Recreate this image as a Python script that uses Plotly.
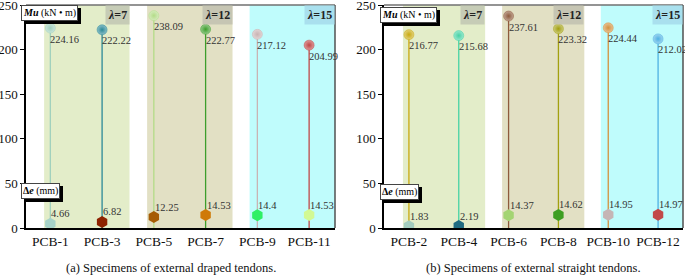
import plotly.graph_objects as go

FONT = "Liberation Serif"

# ---- data ----
cats_a = ["PCB-1", "PCB-3", "PCB-5", "PCB-7", "PCB-9", "PCB-11"]
mu_a = [224.16, 222.22, 238.09, 222.77, 217.12, 204.99]
de_a = [4.66, 6.82, 12.25, 14.53, 14.4, 14.53]

cats_b = ["PCB-2", "PCB-4", "PCB-6", "PCB-8", "PCB-10", "PCB-12"]
mu_b = [216.77, 215.68, 237.61, 223.32, 224.44, 212.02]
de_b = [1.83, 2.19, 14.37, 14.62, 14.95, 14.97]

lambda_labels = ["λ=7", "λ=12", "λ=15"]
y_ticks = [0, 50, 100, 150, 200, 250]

# ---- styles ----
mu_col_a = ["#9fd0bd", "#2b8a98", "#b3dc87", "#3d9e2c", "#c9b3b3", "#c04747"]
de_col_a = ["#a6d2c8", "#8e2200", "#a65c05", "#cf7a08", "#2ef065", "#d2f994"]
mu_col_b = ["#c9aa10", "#47d3a5", "#8e5a3c", "#a2a010", "#d3913f", "#4fb1e3"]
de_col_b = ["#a3cdbf", "#1f6c82", "#a4d473", "#3e9e22", "#c5b5b5", "#c24a4a"]
region_cols = ["#e3edc9", "#e2e0c4", "#bffcfc"]
lab_bg = ["#c6ccb6", "#c6c5b3", "#a9e0ee"]
regions = [(-0.12, 1.53), (1.87, 3.52), (3.85, 5.6)]


def lighten(h, f=0.6):
    h = h.lstrip("#")
    r, g, b = (int(h[i:i + 2], 16) for i in (0, 2, 4))
    r, g, b = (int(c + (255 - c) * f) for c in (r, g, b))
    return f"#{r:02x}{g:02x}{b:02x}"


fig = go.Figure()
W, H = 685, 277

panels = [
    ("x", "y", cats_a, mu_a, de_a, mu_col_a, de_col_a),
    ("x2", "y2", cats_b, mu_b, de_b, mu_col_b, de_col_b),
]
shapes = []
annotations = []

for xr, yr, cats, mu, de, mc, dc in panels:
    # shaded regions
    for (x0, x1), col, lab, bg in zip(regions, region_cols, lambda_labels, lab_bg):
        shapes.append(dict(type="rect", xref=xr, yref=yr, x0=x0, x1=x1, y0=0, y1=250,
                           fillcolor=col, line=dict(width=0), layer="below"))
        annotations.append(dict(xref=xr, yref=yr, x=min(x1, 5.5), y=250, xanchor="right",
                                yanchor="top", showarrow=False,
                                text="<b><i>λ</i>" + lab[1:] + "</b>",
                                bgcolor=bg, borderpad=2,
                                font=dict(family=FONT, size=12, color="#222")))
    for i in range(len(cats)):
        fig.add_trace(go.Scatter(x=[i, i], y=[0, mu[i]], mode="lines",
                                 line=dict(color=mc[i], width=1.3),
                                 xaxis=xr, yaxis=yr, showlegend=False, hoverinfo="skip"))
        fig.add_trace(go.Scatter(x=[i], y=[de[i]], mode="markers",
                                 marker=dict(symbol="hexagon", size=12, color=dc[i],
                                             line=dict(width=0)),
                                 xaxis=xr, yaxis=yr, showlegend=False))
        fig.add_trace(go.Scatter(x=[i], y=[mu[i]], mode="markers",
                                 marker=dict(symbol="circle", size=10, color=lighten(mc[i], 0.45),
                                             gradient=dict(type="radial", color=mc[i]),
                                             line=dict(width=0.5, color=mc[i])),
                                 xaxis=xr, yaxis=yr, showlegend=False))
        annotations.append(dict(xref=xr, yref=yr, x=i, y=mu[i], xanchor="left",
                                yanchor="middle", yshift=-11, xshift=-2, showarrow=False,
                                text=str(mu[i]), font=dict(family=FONT, size=10.5, color="#333")))
        annotations.append(dict(xref=xr, yref=yr, x=i, y=de[i], xanchor="left",
                                yanchor="middle", yshift=10, xshift=-1, showarrow=False,
                                text=str(de[i]), font=dict(family=FONT, size=10.5, color="#333")))
    # top and right borders
    shapes.append(dict(type="line", xref=xr + " domain", yref=yr + " domain",
                       x0=0, x1=1, y0=1, y1=1, line=dict(color="#707070", width=1.5)))
    shapes.append(dict(type="line", xref=xr + " domain", yref=yr + " domain",
                       x0=1, x1=1, y0=0, y1=1, line=dict(color="#505050", width=1.5)))

# label boxes (Mu and Δe) with black shadow
box_defs = [
    (21, 5, "<b><i>Mu</i></b> (kN • m)"),
    (21, 183, "<b>Δ<i>e</i></b> (mm)"),
    (380, 7, "<b><i>Mu</i></b> (kN • m)"),
    (380, 184, "<b>Δ<i>e</i></b> (mm)"),
]
for px, py, txt in box_defs:
    annotations.append(dict(xref="paper", yref="paper", x=px / W, y=1 - py / H,
                            xanchor="left", yanchor="top", xshift=3, yshift=-3,
                            showarrow=False, text=txt, bgcolor="#000", bordercolor="#000",
                            borderwidth=1, borderpad=1,
                            font=dict(family=FONT, size=10, color="#000")))
    annotations.append(dict(xref="paper", yref="paper", x=px / W, y=1 - py / H,
                            xanchor="left", yanchor="top", showarrow=False, text=txt,
                            bgcolor="#fff", bordercolor="#444", borderwidth=1, borderpad=1,
                            font=dict(family=FONT, size=10, color="#000")))

annotations.append(dict(xref="paper", yref="paper", x=171 / W, y=1 - 268 / H,
                        xanchor="center", yanchor="middle", showarrow=False,
                        text="(a) Specimens of external draped tendons.",
                        font=dict(family=FONT, size=12.5, color="#111")))
annotations.append(dict(xref="paper", yref="paper", x=533 / W, y=1 - 268 / H,
                        xanchor="center", yanchor="middle", showarrow=False,
                        text="(b) Specimens of external straight tendons.",
                        font=dict(family=FONT, size=12.5, color="#111")))

ydom = [1 - 228 / H, 1 - 5 / H]
xaxis_common = dict(showgrid=False, zeroline=False, showline=True, linecolor="#000",
                    linewidth=1.5, ticks="", tickfont=dict(family=FONT, size=13.5, color="#111"),
                    fixedrange=True, automargin=False, ticklabeloverflow="allow")
yaxis_common = dict(showgrid=False, zeroline=False, showline=True, linecolor="#000",
                    linewidth=1.5, ticks="outside", ticklen=4, tickcolor="#000",
                    tickvals=y_ticks, range=[0, 250], automargin=False,
                    ticklabeloverflow="allow",
                    tickfont=dict(family=FONT, size=13, color="#111"))

fig.update_layout(
    width=W, height=H, margin=dict(l=0, r=0, t=0, b=0, autoexpand=False),
    font=dict(family=FONT),
    paper_bgcolor="#fff", plot_bgcolor="#fff",
    xaxis=dict(domain=[26 / W, 335 / W], range=[-0.47, 5.5], tickvals=list(range(6)),
               ticktext=cats_a, anchor="y", **xaxis_common),
    yaxis=dict(domain=ydom, anchor="x", **yaxis_common),
    xaxis2=dict(domain=[384 / W, 683 / W], range=[-0.5, 5.5], tickvals=list(range(6)),
                ticktext=cats_b, anchor="y2", **xaxis_common),
    yaxis2=dict(domain=ydom, anchor="x2", **yaxis_common),
    shapes=shapes, annotations=annotations,
)

fig.write_html("out.html", config={"displayModeBar": False},
               post_script="document.body.style.margin='0';")
